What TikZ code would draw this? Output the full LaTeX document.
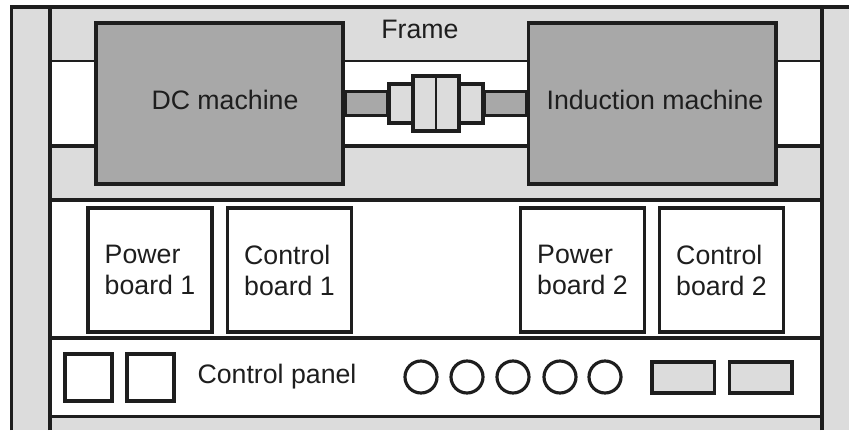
\documentclass[tikz,border=0pt]{standalone}
\usepackage{fontspec}
\setmainfont{Liberation Sans}
\usepackage{xcolor}
\usetikzlibrary{calc}
\definecolor{framegray}{HTML}{DCDCDC}
\definecolor{machinegray}{HTML}{A8A8A8}
\definecolor{inkblack}{HTML}{1E1E1E}
\tikzset{
  label text/.style={font=\fontsize{15.2}{17.6}\selectfont, text=inkblack},
  machine/.style={rectangle, draw=inkblack, fill=machinegray, line width=2pt, minimum width=4.95cm, minimum height=3.22cm, inner sep=0pt},
  board/.style={rectangle, draw=inkblack, fill=white, line width=2pt, minimum width=2.48cm, minimum height=2.47cm, inner sep=0pt},
  joint/.style={rectangle, draw=inkblack, fill=framegray, line width=2pt, inner sep=0pt},
  switch/.style={rectangle, draw=inkblack, fill=white, line width=1.9pt, minimum size=0.94cm, inner sep=0pt},
  lamp/.style={circle, draw=inkblack, fill=white, line width=1.8pt, minimum size=0.64cm, inner sep=0pt},
  meter/.style={rectangle, draw=inkblack, fill=framegray, line width=2pt, minimum width=1.25cm, minimum height=0.62cm, inner sep=0pt},
  rail/.style={draw=inkblack, line width=1.9pt},
  thinrail/.style={draw=inkblack, line width=1.4pt}
}
\begin{document}
\begin{tikzpicture}
  \useasboundingbox (0,0) rectangle (16.98,8.6);
  % frame and shelves
  \fill[framegray] (0.23,0) rectangle (16.98,8.46);
  \fill[white] (1,5.68) rectangle (16.44,7.38);
  \fill[white] (1,0.27) rectangle (16.44,4.6);
  \draw[rail] (0.23,0) -- (0.23,8.46) -- (16.98,8.46);
  \draw[rail] (1,0) -- (1,8.46);
  \draw[rail] (16.44,0) -- (16.44,8.46);
  \draw[thinrail] (1,7.38) -- (16.44,7.38);
  \draw[rail] (1,5.68) -- (16.44,5.68);
  \draw[rail] (1,4.6) -- (16.44,4.6);
  \draw[rail] (1,1.84) -- (16.44,1.84);
  \draw[rail] (1,0.27) -- (16.44,0.27);
  \node[label text] (framelabel) at (8.4, 8.02) {Frame};
  % machines and coupling
  \node[machine] (dc) at (4.39, 6.53) {};
  \node[machine] (im) at (13.04, 6.53) {};
  \node[joint, minimum width=1.88cm, minimum height=0.78cm] (hubouter) at (8.72, 6.53) {};
  \node[joint, minimum width=0.92cm, minimum height=1.1cm] (hubinner) at (8.72, 6.53) {};
  \draw[rail, fill=machinegray] ($(dc.east)+(0,0.24)$) rectangle ($(hubouter.west)+(0,-0.24)$);
  \draw[rail, fill=machinegray] ($(hubouter.east)+(0,0.24)$) rectangle ($(im.west)+(0,-0.24)$);
  \draw[thinrail] (hubinner.north) -- (hubinner.south);
  \node[label text] (dclabel) at (4.5, 6.6) {DC machine};
  \node[label text] (imlabel) at (13.1, 6.6) {Induction machine};
  % boards
  \node[board, align=left, label text] (power1) at (3.0, 3.2) {Power\\board 1};
  \node[board, align=left, label text] (control1) at (5.79, 3.2) {Control\\board 1};
  \node[board, align=left, label text] (power2) at (11.65, 3.2) {Power\\board 2};
  \node[board, align=left, label text] (control2) at (14.43, 3.2) {Control\\board 2};
  % control panel
  \node[switch] (switch1) at (1.77, 1.05) {};
  \node[switch] (switch2) at (3.01, 1.05) {};
  \node[label text] (panellabel) at (5.54, 1.06) {Control panel};
  \node[lamp] (lamp1) at (8.42, 1.06) {};
  \node[lamp] (lamp2) at (9.34, 1.06) {};
  \node[lamp] (lamp3) at (10.26, 1.06) {};
  \node[lamp] (lamp4) at (11.2, 1.06) {};
  \node[lamp] (lamp5) at (12.1, 1.06) {};
  \node[meter] (meter1) at (13.66, 1.05) {};
  \node[meter] (meter2) at (15.21, 1.05) {};
\end{tikzpicture}
\end{document}
